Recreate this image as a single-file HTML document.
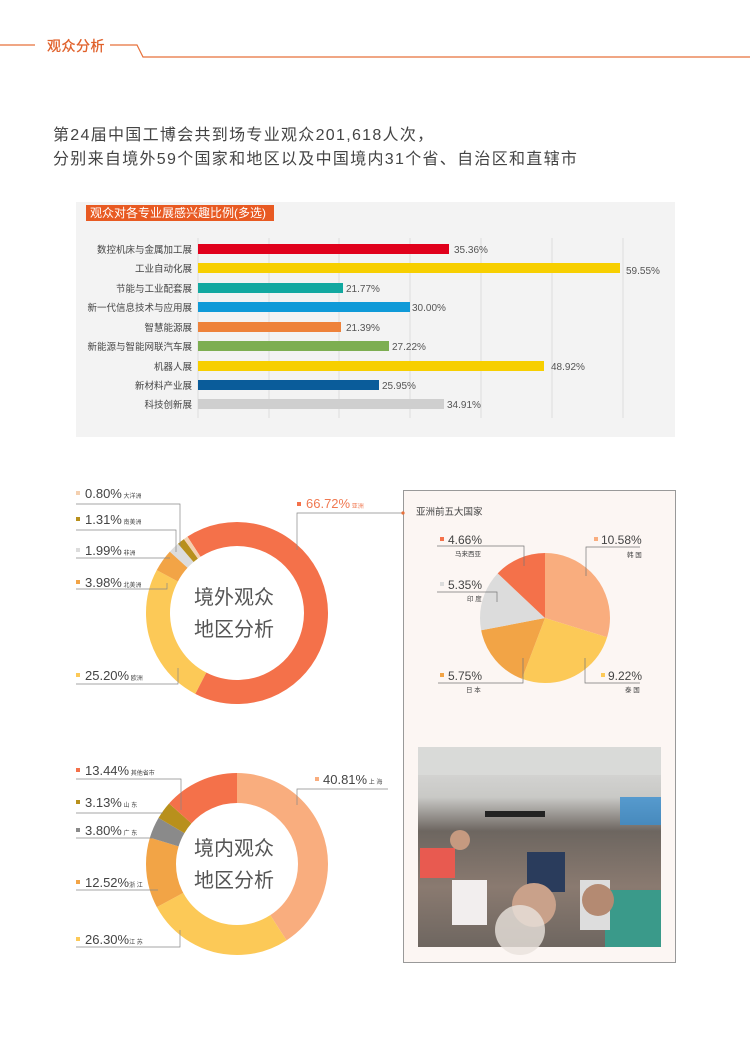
<!DOCTYPE html>
<html><head><meta charset="utf-8">
<style>
html,body{margin:0;padding:0;background:#fff;}
svg{display:block;font-family:"Liberation Sans","Noto Sans CJK SC",sans-serif;}
</style></head>
<body>
<svg width="750" height="1061" viewBox="0 0 750 1061" xmlns="http://www.w3.org/2000/svg">
<!-- header -->
<polyline points="0,45 35,45" stroke="#e8703a" stroke-width="1.2" fill="none"/>
<text x="47" y="51" font-size="14" fill="#e0602a" stroke="#e0602a" stroke-width="0.3" letter-spacing="0.5">观众分析</text>
<polyline points="110,45 137,45 143,57 750,57" stroke="#e8703a" stroke-width="1.2" fill="none"/>

<text x="53" y="140" font-size="16" fill="#444" letter-spacing="1.3">第24届中国工博会共到场专业观众201,618人次，</text>
<text x="53" y="164" font-size="16" fill="#444" letter-spacing="1.3">分别来自境外59个国家和地区以及中国境内31个省、自治区和直辖市</text>

<!-- bar chart -->
<rect x="76" y="202" width="599" height="235" fill="#f3f3f3"/>
<rect x="86" y="205" width="188" height="16" fill="#e85a22"/>
<text x="90" y="217" font-size="12" fill="#fff">观众对各专业展感兴趣比例(多选)</text>
<g stroke="#dcdcdc" stroke-width="1">
<line x1="198" y1="238" x2="198" y2="418"/><line x1="269" y1="238" x2="269" y2="418"/>
<line x1="339" y1="238" x2="339" y2="418"/><line x1="410" y1="238" x2="410" y2="418"/>
<line x1="481" y1="238" x2="481" y2="418"/><line x1="552" y1="238" x2="552" y2="418"/>
<line x1="623" y1="238" x2="623" y2="418"/>
</g>
<g font-size="9.5" fill="#444" text-anchor="end">
<text x="192" y="253">数控机床与金属加工展</text>
<text x="192" y="272">工业自动化展</text>
<text x="192" y="292">节能与工业配套展</text>
<text x="192" y="311">新一代信息技术与应用展</text>
<text x="192" y="331">智慧能源展</text>
<text x="192" y="350">新能源与智能网联汽车展</text>
<text x="192" y="370">机器人展</text>
<text x="192" y="389">新材料产业展</text>
<text x="192" y="408">科技创新展</text>
</g>
<rect x="198" y="244" width="251" height="10" fill="#e0001b"/>
<rect x="198" y="263" width="422" height="10" fill="#f7cf00"/>
<rect x="198" y="283" width="145" height="10" fill="#12a8a0"/>
<rect x="198" y="302" width="212" height="10" fill="#0f9ad8"/>
<rect x="198" y="322" width="143" height="10" fill="#ee823a"/>
<rect x="198" y="341" width="191" height="10" fill="#7dae51"/>
<rect x="198" y="361" width="346" height="10" fill="#f7cf00"/>
<rect x="198" y="380" width="181" height="10" fill="#0a5c9a"/>
<rect x="198" y="399" width="246" height="10" fill="#cfcfcf"/>
<g font-size="10" fill="#555">
<text x="454" y="253">35.36%</text>
<text x="626" y="274">59.55%</text>
<text x="346" y="292">21.77%</text>
<text x="412" y="311">30.00%</text>
<text x="346" y="331">21.39%</text>
<text x="392" y="350">27.22%</text>
<text x="551" y="370">48.92%</text>
<text x="382" y="389">25.95%</text>
<text x="447" y="408">34.91%</text>
</g>

<!-- donut 1 -->
<g transform="rotate(-123 237 613)" fill="none" stroke-width="24">
<circle cx="237" cy="613" r="79" stroke="#f4714a" stroke-dasharray="331.2 496.4" stroke-dashoffset="0"/>
<circle cx="237" cy="613" r="79" stroke="#fcc957" stroke-dasharray="125.1 496.4" stroke-dashoffset="-331.2"/>
<circle cx="237" cy="613" r="79" stroke="#f2a446" stroke-dasharray="19.76 496.4" stroke-dashoffset="-456.3"/>
<circle cx="237" cy="613" r="79" stroke="#dcdcdc" stroke-dasharray="9.88 496.4" stroke-dashoffset="-476.06"/>
<circle cx="237" cy="613" r="79" stroke="#b8901c" stroke-dasharray="6.5 496.4" stroke-dashoffset="-485.94"/>
<circle cx="237" cy="613" r="79" stroke="#f4d0b0" stroke-dasharray="3.97 496.4" stroke-dashoffset="-492.44"/>
</g>
<text x="194" y="604" font-size="20" fill="#555">境外观众</text>
<text x="194" y="636" font-size="20" fill="#555">地区分析</text>
<g stroke="#888" stroke-width="0.7" fill="none">
<polyline points="76,504 180,504 180,546"/>
<polyline points="76,530 176,530 176,552"/>
<polyline points="76,558 170,558"/>
<polyline points="76,589 167,589 167,583"/>
<polyline points="76,684 178,684 178,668"/>
<polyline points="297,550 297,513 402,513"/>
</g>
<g font-size="13" fill="#444">
<rect x="76" y="491" width="4" height="4" fill="#f4d0b0"/><text x="85" y="498">0.80%<tspan font-size="6"> 大洋洲</tspan></text>
<rect x="76" y="517" width="4" height="4" fill="#b8901c"/><text x="85" y="524">1.31%<tspan font-size="6"> 南美洲</tspan></text>
<rect x="76" y="548" width="4" height="4" fill="#dcdcdc"/><text x="85" y="555">1.99%<tspan font-size="6"> 非洲</tspan></text>
<rect x="76" y="580" width="4" height="4" fill="#f2a446"/><text x="85" y="587">3.98%<tspan font-size="6"> 北美洲</tspan></text>
<rect x="76" y="673" width="4" height="4" fill="#fcc957"/><text x="85" y="680">25.20%<tspan font-size="6"> 欧洲</tspan></text>
<rect x="297" y="502" width="4" height="4" fill="#f4714a"/><text x="306" y="508" fill="#f07850">66.72%<tspan font-size="6"> 亚洲</tspan></text>
</g>

<!-- right box -->
<rect x="403.5" y="490.5" width="272" height="472" fill="#fcf6f3" stroke="#999" stroke-width="1"/>
<circle cx="403" cy="513" r="1.6" fill="#e8703a"/>
<text x="416" y="515" font-size="9.5" fill="#444">亚洲前五大国家</text>
<g transform="rotate(-90 545 618)" fill="none" stroke-width="65">
<circle cx="545" cy="618" r="32.5" stroke="#f9ad7e" stroke-dasharray="60.75 204.2" stroke-dashoffset="0"/>
<circle cx="545" cy="618" r="32.5" stroke="#fcc957" stroke-dasharray="52.95 204.2" stroke-dashoffset="-60.75"/>
<circle cx="545" cy="618" r="32.5" stroke="#f2a446" stroke-dasharray="33.02 204.2" stroke-dashoffset="-113.7"/>
<circle cx="545" cy="618" r="32.5" stroke="#dcdcdc" stroke-dasharray="30.72 204.2" stroke-dashoffset="-146.72"/>
<circle cx="545" cy="618" r="32.5" stroke="#f4714a" stroke-dasharray="26.76 204.2" stroke-dashoffset="-177.44"/>
</g>
<g stroke="#777" stroke-width="0.7" fill="none">
<polyline points="586,576 586,547 640,547"/>
<polyline points="437,546 524,546 524,566"/>
<polyline points="437,592 497,592 497,602"/>
<polyline points="438,683 523,683 523,658"/>
<polyline points="640,683 585,683 585,658"/>
</g>
<g font-size="12" fill="#444">
<rect x="594" y="537" width="4" height="4" fill="#f9ad7e"/><text x="601" y="544">10.58%</text>
<text x="627" y="557" font-size="6.5">韩 国</text>
<rect x="440" y="537" width="4" height="4" fill="#f4714a"/><text x="448" y="544">4.66%</text>
<text x="455" y="556" font-size="6.5">马来西亚</text>
<rect x="440" y="582" width="4" height="4" fill="#dcdcdc"/><text x="448" y="589">5.35%</text>
<text x="467" y="601" font-size="6.5">印 度</text>
<rect x="440" y="673" width="4" height="4" fill="#f2a446"/><text x="448" y="680">5.75%</text>
<text x="466" y="692" font-size="6.5">日 本</text>
<rect x="601" y="673" width="4" height="4" fill="#fcc957"/><text x="608" y="680">9.22%</text>
<text x="625" y="692" font-size="6.5">泰 国</text>
</g>

<!-- photo -->
<defs>
<linearGradient id="ph" x1="0" y1="0" x2="0" y2="1">
<stop offset="0" stop-color="#dedede"/><stop offset="0.25" stop-color="#c9c9c6"/>
<stop offset="0.42" stop-color="#6d6660"/><stop offset="0.7" stop-color="#8a7a70"/>
<stop offset="1" stop-color="#6e6660"/></linearGradient>
</defs>
<rect x="418" y="747" width="243" height="200" fill="url(#ph)"/>
<rect x="418" y="747" width="243" height="28" fill="#d9dad8"/>
<rect x="485" y="811" width="60" height="6" fill="#222"/>
<rect x="620" y="797" width="41" height="28" fill="#3a8fcf" opacity="0.8"/>
<rect x="420" y="848" width="35" height="30" fill="#e85a50"/>
<rect x="527" y="852" width="38" height="40" fill="#2a3c5c"/>
<rect x="605" y="890" width="56" height="57" fill="#3a9a8a"/>
<rect x="452" y="880" width="35" height="45" fill="#f2eeee"/>
<rect x="580" y="880" width="30" height="50" fill="#ddd"/>
<circle cx="534" cy="905" r="22" fill="#c9a18a"/>
<circle cx="598" cy="900" r="16" fill="#b48a72"/>
<circle cx="460" cy="840" r="10" fill="#c69a80"/>
<circle cx="520" cy="930" r="25" fill="#e8e2dc" opacity="0.8"/>

<!-- donut 2 -->
<g transform="rotate(-90 237 864)" fill="none" stroke-width="30">
<circle cx="237" cy="864" r="76" stroke="#f9ad7e" stroke-dasharray="194.9 477.5" stroke-dashoffset="0"/>
<circle cx="237" cy="864" r="76" stroke="#fcc957" stroke-dasharray="125.6 477.5" stroke-dashoffset="-194.9"/>
<circle cx="237" cy="864" r="76" stroke="#f2a446" stroke-dasharray="59.8 477.5" stroke-dashoffset="-320.5"/>
<circle cx="237" cy="864" r="76" stroke="#8a8a8a" stroke-dasharray="18.1 477.5" stroke-dashoffset="-380.3"/>
<circle cx="237" cy="864" r="76" stroke="#b8901c" stroke-dasharray="14.9 477.5" stroke-dashoffset="-398.4"/>
<circle cx="237" cy="864" r="76" stroke="#f4714a" stroke-dasharray="64.2 477.5" stroke-dashoffset="-413.3"/>
</g>
<text x="194" y="855" font-size="20" fill="#555">境内观众</text>
<text x="194" y="887" font-size="20" fill="#555">地区分析</text>
<g stroke="#888" stroke-width="0.7" fill="none">
<polyline points="76,779 181,779 181,810"/>
<polyline points="76,813 163,813"/>
<polyline points="76,838 152,838"/>
<polyline points="76,890 158,890"/>
<polyline points="76,947 180,947 180,930"/>
<polyline points="297,805 297,789 388,789"/>
</g>
<g font-size="13" fill="#444">
<rect x="76" y="768" width="4" height="4" fill="#f4714a"/><text x="85" y="775">13.44%<tspan font-size="6"> 其他省市</tspan></text>
<rect x="76" y="800" width="4" height="4" fill="#b8901c"/><text x="85" y="807">3.13%<tspan font-size="6"> 山 东</tspan></text>
<rect x="76" y="828" width="4" height="4" fill="#8a8a8a"/><text x="85" y="835">3.80%<tspan font-size="6"> 广 东</tspan></text>
<rect x="76" y="880" width="4" height="4" fill="#f2a446"/><text x="85" y="887">12.52%<tspan font-size="6">浙 江</tspan></text>
<rect x="76" y="937" width="4" height="4" fill="#fcc957"/><text x="85" y="944">26.30%<tspan font-size="6">江 苏</tspan></text>
<rect x="315" y="777" width="4" height="4" fill="#f9ad7e"/><text x="323" y="784">40.81%<tspan font-size="6"> 上 海</tspan></text>
</g>
</svg>
</body></html>
